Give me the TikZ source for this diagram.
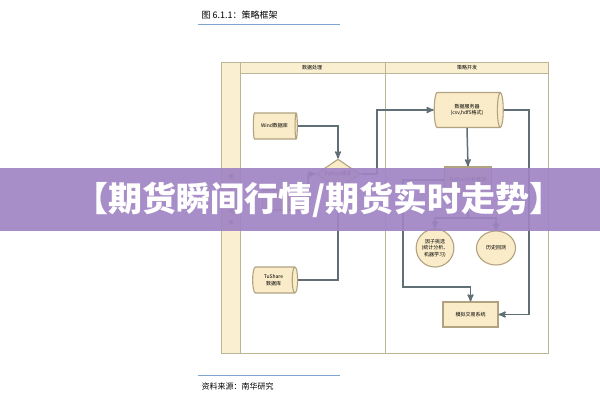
\documentclass[tikz,border=0pt]{standalone}
\usepackage{fontspec}
\setmainfont{Noto Sans CJK SC}
\usetikzlibrary{arrows,shapes.geometric,positioning}

\definecolor{lanefill}{RGB}{250,239,208}
\definecolor{laneline}{RGB}{190,180,150}
\definecolor{boxfill}{RGB}{250,236,200}
\definecolor{boxline}{RGB}{178,163,128}
\definecolor{flowline}{RGB}{96,110,118}
\definecolor{bandcol}{RGB}{160,132,196}
\definecolor{rulecol}{RGB}{125,165,205}

\tikzset{
  small/.style={font=\fontsize{5}{6.5}\selectfont},
  db/.style={cylinder, draw=boxline, fill=boxfill, line width=1.1pt, shape aspect=0.5,
    inner sep=0pt, align=center, small},
  stepbox/.style={rectangle, draw=boxline, fill=boxfill, line width=1.1pt, inner sep=0pt,
    align=center, small},
  oval/.style={ellipse, draw=boxline, fill=boxfill, line width=1.1pt, inner sep=0pt,
    align=center, small},
  choice/.style={diamond, draw=boxline, fill=boxfill, line width=1.1pt, inner sep=0pt,
    aspect=1.1, small},
  flow/.style={draw=flowline, line width=1.5pt, ->, >=stealth'},
  lane/.style={draw=laneline, line width=1pt}
}

\begin{document}
\begin{tikzpicture}[x=1pt,y=-1pt]
\useasboundingbox (0,0) rectangle (600,400);

% title and source
\node[anchor=west, font=\fontsize{9}{10}\selectfont] (title) at (198,15) {图 6.1.1：策略框架};
\draw[rulecol, line width=1pt] (198,24) -- (340,24);
\draw[rulecol, line width=1pt] (198,375) -- (340,375);
\node[anchor=west, font=\fontsize{8}{9}\selectfont] (source) at (198,386) {资料来源：南华研究};

% lanes
\fill[lanefill] (221,62) rectangle (240,353);
\fill[lanefill] (240,62) rectangle (548,73);
\draw[lane] (221,62) rectangle (548,353);
\draw[lane] (240,62) -- (240,353);
\draw[lane] (240,73) -- (548,73);
\draw[lane] (385,62) -- (385,353);
\node[small] (laneA) at (312,67.5) {数据处理};
\node[small] (laneB) at (467,67.5) {策略开发};
\node[font=\fontsize{5}{11.5}\selectfont, align=center] (team) at (231,200) {南\\华\\研\\究\\部};

% nodes
\node[db, minimum width=26pt, minimum height=44pt] (wind) at (274.5,126) {Wind数据库};
\node[db, minimum width=20pt, minimum height=38pt] (local) at (281,200) {};
\node[db, minimum width=26pt, minimum height=45pt] (tushare) at (273.5,280) {TuShare\\数据库};
\node[choice, minimum width=44pt] (clean) at (338,174) {Python清洗};
\node[db, minimum width=35pt, minimum height=69pt] (server) at (467,110) {数据服务器\\(csv,hdf5格式)};
\node[stepbox, minimum width=47pt, minimum height=26pt] (frame) at (468,180) {Python分析框架};
\node[oval, minimum width=36pt, minimum height=38pt] (factor) at (435,248) {因子挑选\\(统计分析、\\机器学习)};
\node[oval, minimum width=39pt, minimum height=34pt] (backtest) at (496,248) {历史回测};
\node[stepbox, minimum width=55pt, minimum height=25pt] (sim) at (470.5,314.5) {模拟交易系统};

\coordinate (c1) at (377,174);
\coordinate (c2) at (403,287);
\coordinate (c3) at (529,314.5);
\coordinate (c4) at (308,200);
\coordinate (br) at (468,218);

% connectors
\draw[flow] (wind.east) -| (clean.north);
\draw[flow] (tushare.east) -| (clean.south);
\draw[flow] (local.east) -- (c4) |- (clean.west);
\draw[flow] (clean.east) -- (c1) |- (server.west);
\draw[flow] (server.south) -- (frame.north);
\draw[draw=flowline, line width=1.5pt] (frame.south) -- (br);
\draw[flow] (br) -| (factor.north);
\draw[flow] (br) -| (backtest.north);
\draw[flow] (frame.west) -| (c2) -| (sim.north);
\draw[flow] (server.east) -| (c3) -- (sim.east);

% banner
\fill[bandcol, opacity=0.92] (0,168) rectangle (600,231);
\node[text=white, font=\fontsize{34}{35}\bfseries] (banner) at (319,199.5) {【期货瞬间行情/期货实时走势】};
\end{tikzpicture}
\end{document}
